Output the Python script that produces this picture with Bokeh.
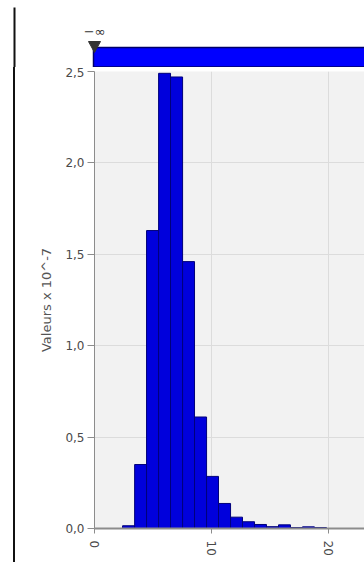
from bokeh.plotting import figure
from bokeh.layouts import row, column
from bokeh.models import ColumnDataSource, Div
from bokeh.core.properties import value
from bokeh.embed import file_html
from bokeh.resources import INLINE

# Histogram bins (x) and bin heights (values x 10^-7)
bin_left = [2.40, 3.43, 4.45, 5.48, 6.50, 7.53, 8.55, 9.58, 10.60, 11.63,
            12.65, 13.68, 14.70, 15.73, 16.75, 17.78, 18.80]
bin_right = [3.43, 4.45, 5.48, 6.50, 7.53, 8.55, 9.58, 10.60, 11.63, 12.65,
             13.68, 14.70, 15.73, 16.75, 17.78, 18.80, 19.83]
bin_value = [0.015, 0.35, 1.63, 2.49, 2.47, 1.46, 0.61, 0.285, 0.137, 0.062,
             0.037, 0.022, 0.010, 0.020, 0.005, 0.009, 0.005]

x_ticks = [0, 10, 20]
x_tick_labels = ["0", "10", "20"]
y_ticks = [0.0, 0.5, 1.0, 1.5, 2.0, 2.5]
y_tick_labels = ["0,0", "0,5", "1,0", "1,5", "2,0", "2,5"]
y_title = "Valeurs x 10^-7"
range_min_text = "\u2212\u221e"

# Page geometry (pixels)
W, H = 364, 562
TOP_H = 67                        # range-slider band
STRIP_W = 20                      # narrow panel holding the separator line
AXIS_X, FRAME_T, FRAME_B = 94, 71, 528
X_MAX = 23.08
Y_MAX = 2.5

# ---- range slider band (pixel coordinates) ---------------------------------
top = figure(width=W, height=TOP_H, x_range=(0, W), y_range=(TOP_H, 0),
             x_axis_type=None, y_axis_type=None, output_backend="svg",
             toolbar_location=None, min_border=0, margin=0)
top.min_border_left = top.min_border_right = 0
top.min_border_top = top.min_border_bottom = 0
top.frame_align = False
top.outline_line_color = None
top.grid.visible = False
top.background_fill_color = "white"
top.border_fill_color = "white"
top.quad(left=[13], right=[15], top=[7], bottom=[TOP_H], fill_color="#111111",
         line_color=None)
top.quad(left=[AXIS_X - 1], right=[W + 10], top=[47], bottom=[66.5],
         fill_color="#0000ff", line_color="#00006a", line_width=1.5)
top.patch(x=[AXIS_X - 6, AXIS_X + 6, AXIS_X], y=[41, 41, 52],
          fill_color="#333333", line_color="#333333")
top.text(x=[AXIS_X], y=[31], text=[range_min_text], text_align="center",
         text_baseline="middle", text_font=value("DejaVu Sans"),
         text_font_size="13px", text_color="#333333")

# ---- left strip with the vertical separator -------------------------------
strip = Div(width=STRIP_W, height=H - TOP_H, margin=0,
            text=('<div style="margin:0 0 0 13px; width:2px; '
                  f'height:{H - TOP_H}px; background:#111111;"></div>'))

# ---- main histogram ---------------------------------------------------------
p = figure(width=W - STRIP_W, height=H - TOP_H, x_range=(0, X_MAX),
           y_range=(0, Y_MAX), output_backend="svg", toolbar_location=None,
           min_border_left=AXIS_X - STRIP_W, min_border_right=0,
           min_border_top=FRAME_T - TOP_H, min_border_bottom=H - FRAME_B,
           margin=0)
p.frame_align = False
p.background_fill_color = "#f2f2f2"
p.border_fill_color = "white"
p.outline_line_color = None

src = ColumnDataSource(dict(left=bin_left, right=bin_right, top=bin_value,
                            bottom=[0.0] * len(bin_value)))
p.quad(left="left", right="right", top="top", bottom="bottom", source=src,
       fill_color="#0000dc", line_color="#00007a", line_width=1)

p.xgrid.ticker = x_ticks
p.ygrid.ticker = y_ticks
p.grid.grid_line_color = "#dcdcdc"

for ax in (p.xaxis[0], p.yaxis[0]):
    ax.axis_line_color = "#8c8c8c"
    ax.major_tick_line_color = "#8c8c8c"
    ax.major_tick_in = 0
    ax.minor_tick_line_color = None
    ax.major_label_text_font = "DejaVu Sans"
    ax.major_label_text_font_size = "12px"
    ax.major_label_text_color = "#4a4a4a"

p.xaxis.ticker = x_ticks
p.xaxis.major_label_overrides = dict(zip(x_ticks, x_tick_labels))
p.xaxis.major_label_orientation = "vertical"
p.xaxis.axis_line_width = 2
p.xaxis.major_tick_out = 5
p.xaxis.major_label_standoff = 7

p.yaxis.ticker = y_ticks
p.yaxis.major_label_overrides = dict(zip(y_ticks, y_tick_labels))
p.yaxis.major_tick_out = 7
p.yaxis.major_label_standoff = 3
p.yaxis.axis_label = y_title
p.yaxis.axis_label_text_font = "DejaVu Sans"
p.yaxis.axis_label_text_font_style = "normal"
p.yaxis.axis_label_text_font_size = "13px"
p.yaxis.axis_label_text_color = "#555555"
p.yaxis.axis_label_standoff = 8

layout = column(top, row(strip, p, spacing=0, margin=0), spacing=0, margin=0)
open("out.html", "w").write(file_html(layout, INLINE))
